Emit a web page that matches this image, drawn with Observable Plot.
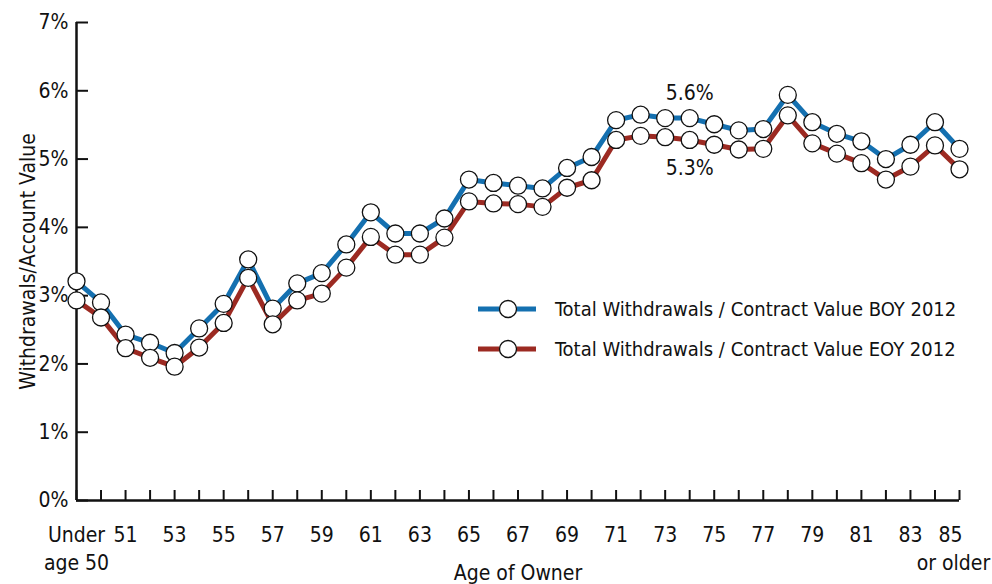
<!DOCTYPE html>
<html>
<head>
<meta charset="utf-8">
<script src="https://cdn.jsdelivr.net/npm/d3@7"></script>
<script src="https://cdn.jsdelivr.net/npm/@observablehq/plot@0.6"></script>
<style>
  body { margin: 0; background: #fff; }
  #wrap { position: relative; width: 992px; height: 584px; font-family: "Liberation Sans Narrow", "DejaVu Sans Condensed", sans-serif; color: #111; }
  #legend { position: absolute; left: 478px; top: 289px; font-size: 20px; }
  #legend .row { display: flex; align-items: center; height: 40px; }
  #legend svg { margin-right: 19px; }
</style>
</head>
<body>
<div id="wrap"><div id="legend"></div></div>
<script>
const ages = ["Under age 50","50","51","52","53","54","55","56","57","58","59","60","61","62","63","64","65","66","67","68","69","70","71","72","73","74","75","76","77","78","79","80","81","82","83","84","85 or older"];
const boy = [3.21,2.90,2.43,2.31,2.16,2.52,2.88,3.53,2.81,3.18,3.33,3.75,4.22,3.91,3.91,4.13,4.70,4.65,4.61,4.57,4.87,5.03,5.57,5.65,5.60,5.60,5.51,5.42,5.44,5.94,5.54,5.37,5.26,5.00,5.21,5.54,5.15];
const eoy = [2.93,2.68,2.23,2.09,1.96,2.24,2.60,3.26,2.58,2.93,3.03,3.41,3.86,3.60,3.60,3.85,4.38,4.35,4.34,4.30,4.58,4.69,5.28,5.34,5.32,5.28,5.21,5.14,5.15,5.64,5.23,5.08,4.94,4.70,4.89,5.20,4.85];
const seriesNames = ["Total Withdrawals / Contract Value BOY 2012","Total Withdrawals / Contract Value EOY 2012"];
const seriesColors = ["#1470b0","#9c2a22"];
const tickAges = ["Under age 50","51","53","55","57","59","61","63","65","67","69","71","73","75","77","79","81","83"];
const tickTexts = ["Under\nage 50","51","53","55","57","59","61","63","65","67","69","71","73","75","77","79","81","83"];
const lastAge = "85 or older";
const lastTexts = ["85", "or older"];
const yTicks = [0,1,2,3,4,5,6,7];
const annotAge = "74";
const annotTexts = ["5.6%","5.3%"];

const FONT = '"Liberation Sans Narrow", "DejaVu Sans Condensed", sans-serif';

const data = ages.flatMap((a, i) => [
  {age: a, v: boy[i], s: seriesNames[0]},
  {age: a, v: eoy[i], s: seriesNames[1]}
]);
const tickData = tickAges.map((a, i) => ({age: a, label: tickTexts[i]}));
const ai = ages.indexOf(annotAge);

const chart = Plot.plot({
  width: 992,
  height: 584,
  marginLeft: 76,
  marginRight: 33,
  marginTop: 22,
  marginBottom: 84,
  style: {fontFamily: FONT, fontSize: "21px", color: "#111", background: "transparent", overflow: "visible"},
  x: {type: "point", domain: ages, padding: 0, round: false},
  y: {domain: [0, 7]},
  color: {domain: seriesNames, range: seriesColors},
  marks: [
    Plot.axisY(yTicks, {tickSize: -12, tickPadding: 20, strokeWidth: 2, stroke: "#111", tickFormat: d => d + "%",
      label: "Withdrawals/Account Value", labelAnchor: "center", labelOffset: 56, labelArrow: false}),
    Plot.axisX(ages, {tickSize: -10, strokeWidth: 2, stroke: "#111", tickFormat: () => "",
      label: "Age of Owner", labelAnchor: "center", labelOffset: 79, labelArrow: false}),
    Plot.text(tickData, {x: "age", text: "label", frameAnchor: "bottom", lineAnchor: "top", dy: 22, lineHeight: 1.33, fill: "#111"}),
    Plot.text([lastTexts[0]], {x: () => lastAge, text: d => d, frameAnchor: "bottom", lineAnchor: "top", dy: 22, dx: -9, lineHeight: 1.33, fill: "#111"}),
    Plot.text([lastTexts[1]], {x: () => lastAge, text: d => d, frameAnchor: "bottom", lineAnchor: "top", dy: 50, dx: -6, lineHeight: 1.33, fill: "#111"}),
    Plot.ruleX([ages[0]], {stroke: "#111", strokeWidth: 2.5}),
    Plot.ruleY([0], {stroke: "#111", strokeWidth: 2.5}),
    Plot.line(data, {x: "age", y: "v", stroke: "s", strokeWidth: 5}),
    Plot.dot(data, {x: "age", y: "v", r: 8.5, fill: "white", stroke: "#111", strokeWidth: 1.3}),
    Plot.text([annotTexts[0]], {x: () => annotAge, y: () => boy[ai], text: d => d, dy: -25, fill: "#111"}),
    Plot.text([annotTexts[1]], {x: () => annotAge, y: () => eoy[ai], text: d => d, dy: 28, fill: "#111"})
  ]
});
document.getElementById("wrap").prepend(chart);

const legend = d3.select("#legend");
seriesNames.forEach((name, i) => {
  const row = legend.append("div").attr("class", "row");
  const svg = row.append("svg").attr("width", 58).attr("height", 22);
  svg.append("line").attr("x1", 0).attr("x2", 58).attr("y1", 11).attr("y2", 11)
    .attr("stroke", seriesColors[i]).attr("stroke-width", 5);
  svg.append("circle").attr("cx", 30).attr("cy", 11).attr("r", 8.5)
    .attr("fill", "white").attr("stroke", "#111").attr("stroke-width", 1.3);
  row.append("span").text(name);
});
</script>
</body>
</html>
